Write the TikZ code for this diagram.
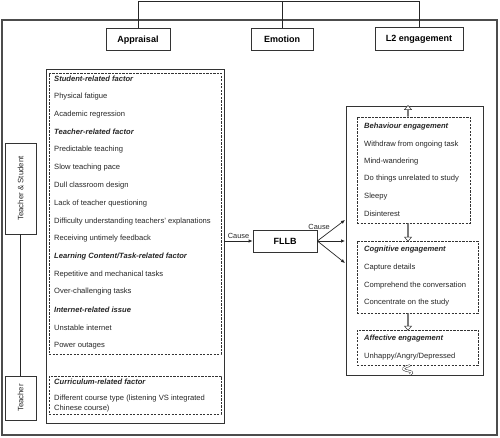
\documentclass[tikz,border=0pt]{standalone}
\usepackage{fontspec}
\setmainfont{Liberation Sans}
\usetikzlibrary{arrows.meta,shapes.arrows,calc}
\begin{document}
\begin{tikzpicture}[x=1pt,y=-1pt,
  line/.style={draw=black!85, line width=0.7pt},
  solidbox/.style={draw=black!80, line width=0.7pt, inner sep=0pt},
  dashbox/.style={draw=black!80, line width=0.6pt, dash pattern=on 2.2pt off 1.3pt, inner sep=0pt},
  headbox/.style={draw=black!80, line width=0.7pt, font=\bfseries\fontsize{9}{10}\selectfont, inner sep=0pt, text depth=0pt},
  item/.style={anchor=west, font=\fontsize{7.6}{8.5}\selectfont, inner sep=0pt, text=black!85},
  title/.style={item, font=\bfseries\itshape\fontsize{7.6}{8.5}\selectfont},
  side/.style={rotate=90, font=\fontsize{7.8}{9}\selectfont, text=black!85},
  lab/.style={font=\fontsize{7.4}{8.5}\selectfont, text=black!85},
  arr/.style={line, -{Latex[length=4pt,width=3.5pt]}},
  harrow/.style={single arrow, draw=black!80, line width=0.5pt, fill=white, inner sep=0pt, minimum width=7pt, single arrow head extend=1.6pt, single arrow tip angle=80}
]
\useasboundingbox (0,0) rectangle (500,438);
% outer frame
\draw[draw=black!70, line width=1.2pt] (2,20) rectangle (497,435);
% heads
\node[headbox, minimum width=64pt, minimum height=22pt] (app) at (138,39) {Appraisal};
\node[headbox, minimum width=62pt, minimum height=22pt] (emo) at (282,39) {Emotion};
\node[headbox, minimum width=88pt, minimum height=23pt] (l2) at (419,38.5) {L2 engagement};
\coordinate (ta) at (138,1);
\coordinate (tl) at (419,1);
\draw[line] (app.north) -- (ta) -- (tl) -- (l2.north);
\draw[line] (emo.north) -- (emo.north |- ta);
% left vertical boxes
\node[solidbox, minimum width=31pt, minimum height=91pt] (ts) at (20.5,188.5) {};
\node[side] at (ts.center) {Teacher \& Student};
\node[solidbox, minimum width=31pt, minimum height=44pt] (tc) at (20.5,398) {};
\node[side] at (tc.center) {Teacher};
\draw[line] (ts.south) -- (tc.north);
% big left box
\node[solidbox, minimum width=178pt, minimum height=354pt] (lb) at (135,246) {};
\node[dashbox, minimum width=172pt, minimum height=281pt] (f1) at (135,213.5) {};
\node[dashbox, minimum width=172pt, minimum height=38pt] (f2) at (135,395) {};
\foreach \t/\y/\s in {
 {Student-related factor}/79/title,
 {Physical fatigue}/97/item,
 {Academic regression}/115/item,
 {Teacher-related factor}/132/title,
 {Predictable teaching}/150/item,
 {Slow teaching pace}/168/item,
 {Dull classroom design}/186/item,
 {Lack of teacher questioning}/204/item,
 {Difficulty understanding teachers' explanations}/222/item,
 {Receiving untimely feedback}/239/item,
 {Learning Content/Task-related factor}/257/title,
 {Repetitive and mechanical tasks}/275/item,
 {Over-challenging tasks}/292/item,
 {Internet-related issue}/310/title,
 {Unstable internet}/328/item,
 {Power outages}/346/item,
 {Curriculum-related factor}/382/title,
 {Different course type (listening VS integrated}/399/item,
 {Chinese course)}/409/item}
 {\node[\s] at (54,\y) {\t};}
% FLLB
\node[headbox, minimum width=64pt, minimum height=22pt] (fllb) at (285,241) {FLLB};
\draw[arr] (lb.east |- fllb.west) -- node[above, lab, inner sep=2pt] {Cause} (fllb.west);
% right box
\node[solidbox, minimum width=137pt, minimum height=269pt] (rb) at (414.5,240.5) {};
\node[dashbox, minimum width=113pt, minimum height=106pt] (beh) at (413.5,170) {};
\node[dashbox, minimum width=121pt, minimum height=72pt] (cog) at (417.5,277) {};
\node[dashbox, minimum width=121pt, minimum height=35pt] (aff) at (417.5,347.5) {};
\coordinate (a1) at (345,220);
\coordinate (a2) at (345,241);
\coordinate (a3) at (345,263);
\draw[arr] (fllb.east) -- (a1) node[pos=0.5, above left, lab, inner sep=1pt] {Cause};
\draw[arr] (fllb.east) -- (a2);
\draw[arr] (fllb.east) -- (a3);
\foreach \t/\y/\s in {
 {Behaviour engagement}/127/title,
 {Withdraw from ongoing task}/145/item,
 {Mind-wandering}/162/item,
 {Do things unrelated to study}/179/item,
 {Sleepy}/197/item,
 {Disinterest}/214/item,
 {Cognitive engagement}/250/title,
 {Capture details}/268/item,
 {Comprehend the conversation}/286/item,
 {Concentrate on the study}/303/item,
 {Affective engagement}/339/title,
 {Unhappy/Angry/Depressed}/357/item}
 {\node[\s] at (364,\y) {\t};}
% hollow arrows
\coordinate (hx) at (408,0);
\path (hx |- beh.south) -- (hx |- cog.north) node[midway, harrow, minimum height=18pt, shape border rotate=270] {};
\path (hx |- cog.south) -- (hx |- aff.north) node[midway, harrow, minimum height=17pt, shape border rotate=270] {};
\path (hx |- rb.north) -- (hx |- beh.north) node[midway, harrow, minimum height=11pt, shape border rotate=90] {};
% loop at bottom
\draw[draw=black!80, line width=0.5pt, double=white, double distance=1.3pt] (410,365.5) .. controls (404,367) and (401,369) .. (406,370.5) .. controls (411,371.5) and (414,372) .. (410,374.5);
\end{tikzpicture}
\end{document}
